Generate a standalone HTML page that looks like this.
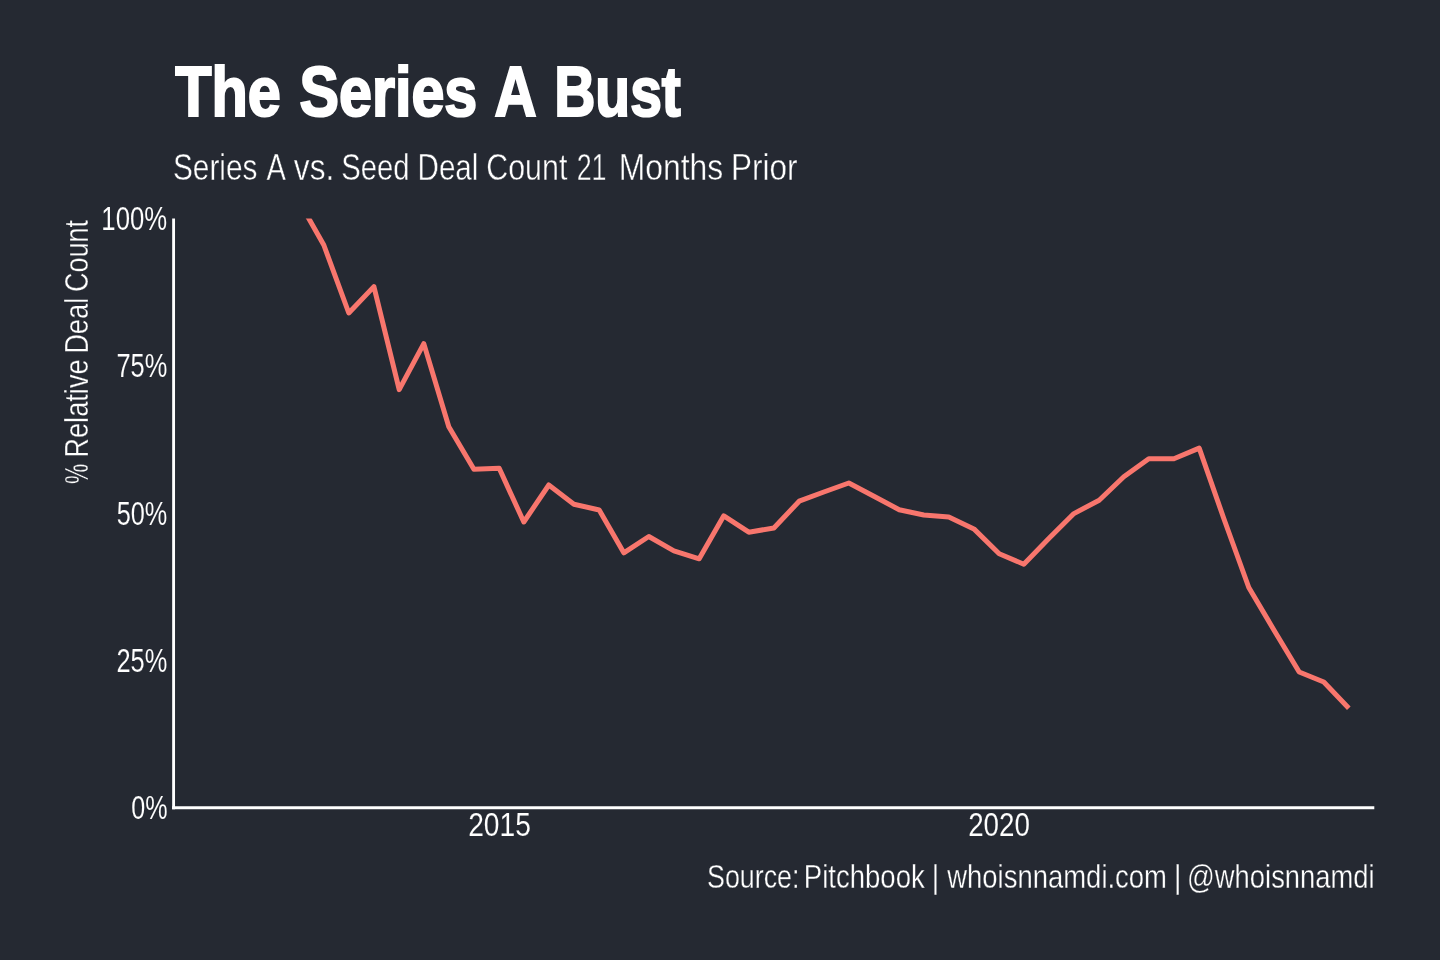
<!DOCTYPE html>
<html lang="en">
<head>
<meta charset="utf-8">
<title>The Series A Bust</title>
<style>
  html, body { margin:0; padding:0; background:#252932; }
  body { width:1440px; height:960px; overflow:hidden; }
  svg { display:block; }
  text { font-family:"Liberation Sans", sans-serif; fill:#ffffff; white-space:pre; }
  .title { font-weight:bold; }
</style>
</head>
<body>
<svg width="1440" height="960" viewBox="0 0 1440 960">
  <rect x="0" y="0" width="1440" height="960" fill="#252932"/>
  <defs>
    <clipPath id="panel"><rect x="173.6" y="218.5" width="1201" height="590"/></clipPath>
  </defs>

  <!-- data line: Series A vs. Seed deal count 21 months prior -->
  <g clip-path="url(#panel)">
    <polyline points="299.2,201.6 323.8,245 348.8,313 373.9,286.6 399.2,389.6 423.8,343.6 448.8,426.7 473.9,469.2 499.2,468.3 523.8,522 548.8,485 573.9,504.2 599.2,510 623.8,552.8 648.8,536.5 673.9,550.8 699.2,558.8 723.8,515.8 748.8,532.2 773.9,528 799.2,501.2 823.8,492 848.8,483 873.9,496.3 899.2,509.7 923.8,515 948.8,516.9 973.9,528.9 999.2,553.8 1023.8,564.2 1048.8,538.6 1073.9,513.6 1099.2,500.2 1123.8,476.7 1148.8,458.8 1173.9,458.8 1199.2,448.1 1223.8,518.5 1248.8,587.5 1273.9,630 1299.2,672 1323.8,682 1348.8,708.2" fill="none" stroke="#f8766d" stroke-width="5" stroke-linejoin="round" stroke-linecap="butt"/>
  </g>

  <!-- axes -->
  <line x1="173.6" y1="218.5" x2="173.6" y2="809.2" stroke="#ffffff" stroke-width="2.85"/>
  <line x1="172.1" y1="807.7" x2="1374.3" y2="807.7" stroke="#ffffff" stroke-width="3.1"/>

  <!-- text: title, subtitle, tick labels, axis title, caption -->
  <text class="title" font-size="70.5" stroke="#ffffff" stroke-width="2.2" stroke-linejoin="miter" y="116.3"><tspan x="175.15" textLength="105.62" lengthAdjust="spacingAndGlyphs">The</tspan> <tspan x="299.50" textLength="177.73" lengthAdjust="spacingAndGlyphs">Series</tspan> <tspan x="494.40" textLength="39.96" lengthAdjust="spacingAndGlyphs">A</tspan> <tspan x="554.15" textLength="126.69" lengthAdjust="spacingAndGlyphs">Bust</tspan></text>
  <text class="lt" font-size="36.6" stroke="#252932" stroke-width="0.45" y="179.5"><tspan x="173.00" textLength="84.43" lengthAdjust="spacingAndGlyphs">Series</tspan> <tspan x="266.60" textLength="17.79" lengthAdjust="spacingAndGlyphs">A</tspan> <tspan x="293.85" textLength="40.40" lengthAdjust="spacingAndGlyphs">vs.</tspan> <tspan x="341.35" textLength="68.30" lengthAdjust="spacingAndGlyphs">Seed</tspan> <tspan x="417.50" textLength="60.93" lengthAdjust="spacingAndGlyphs">Deal</tspan> <tspan x="486.25" textLength="81.10" lengthAdjust="spacingAndGlyphs">Count</tspan> <tspan x="576.65" textLength="29.87" lengthAdjust="spacingAndGlyphs">21</tspan> <tspan x="618.75" textLength="104.46" lengthAdjust="spacingAndGlyphs">Months</tspan> <tspan x="731.10" textLength="66.44" lengthAdjust="spacingAndGlyphs">Prior</tspan></text>
  <text class="lt" font-size="32.5" stroke="#252932" stroke-width="0.1" y="230"><tspan x="101.35" textLength="65.85" lengthAdjust="spacingAndGlyphs">100%</tspan></text>
  <text class="lt" font-size="32.5" stroke="#252932" stroke-width="0.1" y="377.3"><tspan x="116.45" textLength="50.89" lengthAdjust="spacingAndGlyphs">75%</tspan></text>
  <text class="lt" font-size="32.5" stroke="#252932" stroke-width="0.1" y="524.5"><tspan x="116.70" textLength="50.66" lengthAdjust="spacingAndGlyphs">50%</tspan></text>
  <text class="lt" font-size="32.5" stroke="#252932" stroke-width="0.1" y="671.8"><tspan x="116.45" textLength="50.89" lengthAdjust="spacingAndGlyphs">25%</tspan></text>
  <text class="lt" font-size="32.5" stroke="#252932" stroke-width="0.1" y="819"><tspan x="131.20" textLength="36.36" lengthAdjust="spacingAndGlyphs">0%</tspan></text>
  <text class="lt" font-size="32.5" stroke="#252932" stroke-width="0.1" y="836"><tspan x="468.15" textLength="62.71" lengthAdjust="spacingAndGlyphs">2015</tspan></text>
  <text class="lt" font-size="32.5" stroke="#252932" stroke-width="0.1" y="836"><tspan x="968.15" textLength="61.81" lengthAdjust="spacingAndGlyphs">2020</tspan></text>
  <text class="lt" font-size="33" stroke="#252932" stroke-width="0.35" transform="translate(88.4,484) rotate(-90)" y="0"><tspan x="0.00" textLength="20.23" lengthAdjust="spacingAndGlyphs">%</tspan> <tspan x="26.30" textLength="98.36" lengthAdjust="spacingAndGlyphs">Relative</tspan> <tspan x="130.15" textLength="56.16" lengthAdjust="spacingAndGlyphs">Deal</tspan> <tspan x="192.00" textLength="72.13" lengthAdjust="spacingAndGlyphs">Count</tspan></text>
  <text class="lt" font-size="33" stroke="#252932" stroke-width="0.35" y="887.6"><tspan x="707.00" textLength="92.47" lengthAdjust="spacingAndGlyphs">Source:</tspan> <tspan x="803.75" textLength="121.02" lengthAdjust="spacingAndGlyphs">Pitchbook</tspan> <tspan x="931.38" textLength="7.90" lengthAdjust="spacingAndGlyphs">|</tspan> <tspan x="947.25" textLength="219.73" lengthAdjust="spacingAndGlyphs">whoisnnamdi.com</tspan> <tspan x="1173.75" textLength="7.90" lengthAdjust="spacingAndGlyphs">|</tspan> <tspan x="1187.10" textLength="187.44" lengthAdjust="spacingAndGlyphs">@whoisnnamdi</tspan></text>
</svg>
</body>
</html>
